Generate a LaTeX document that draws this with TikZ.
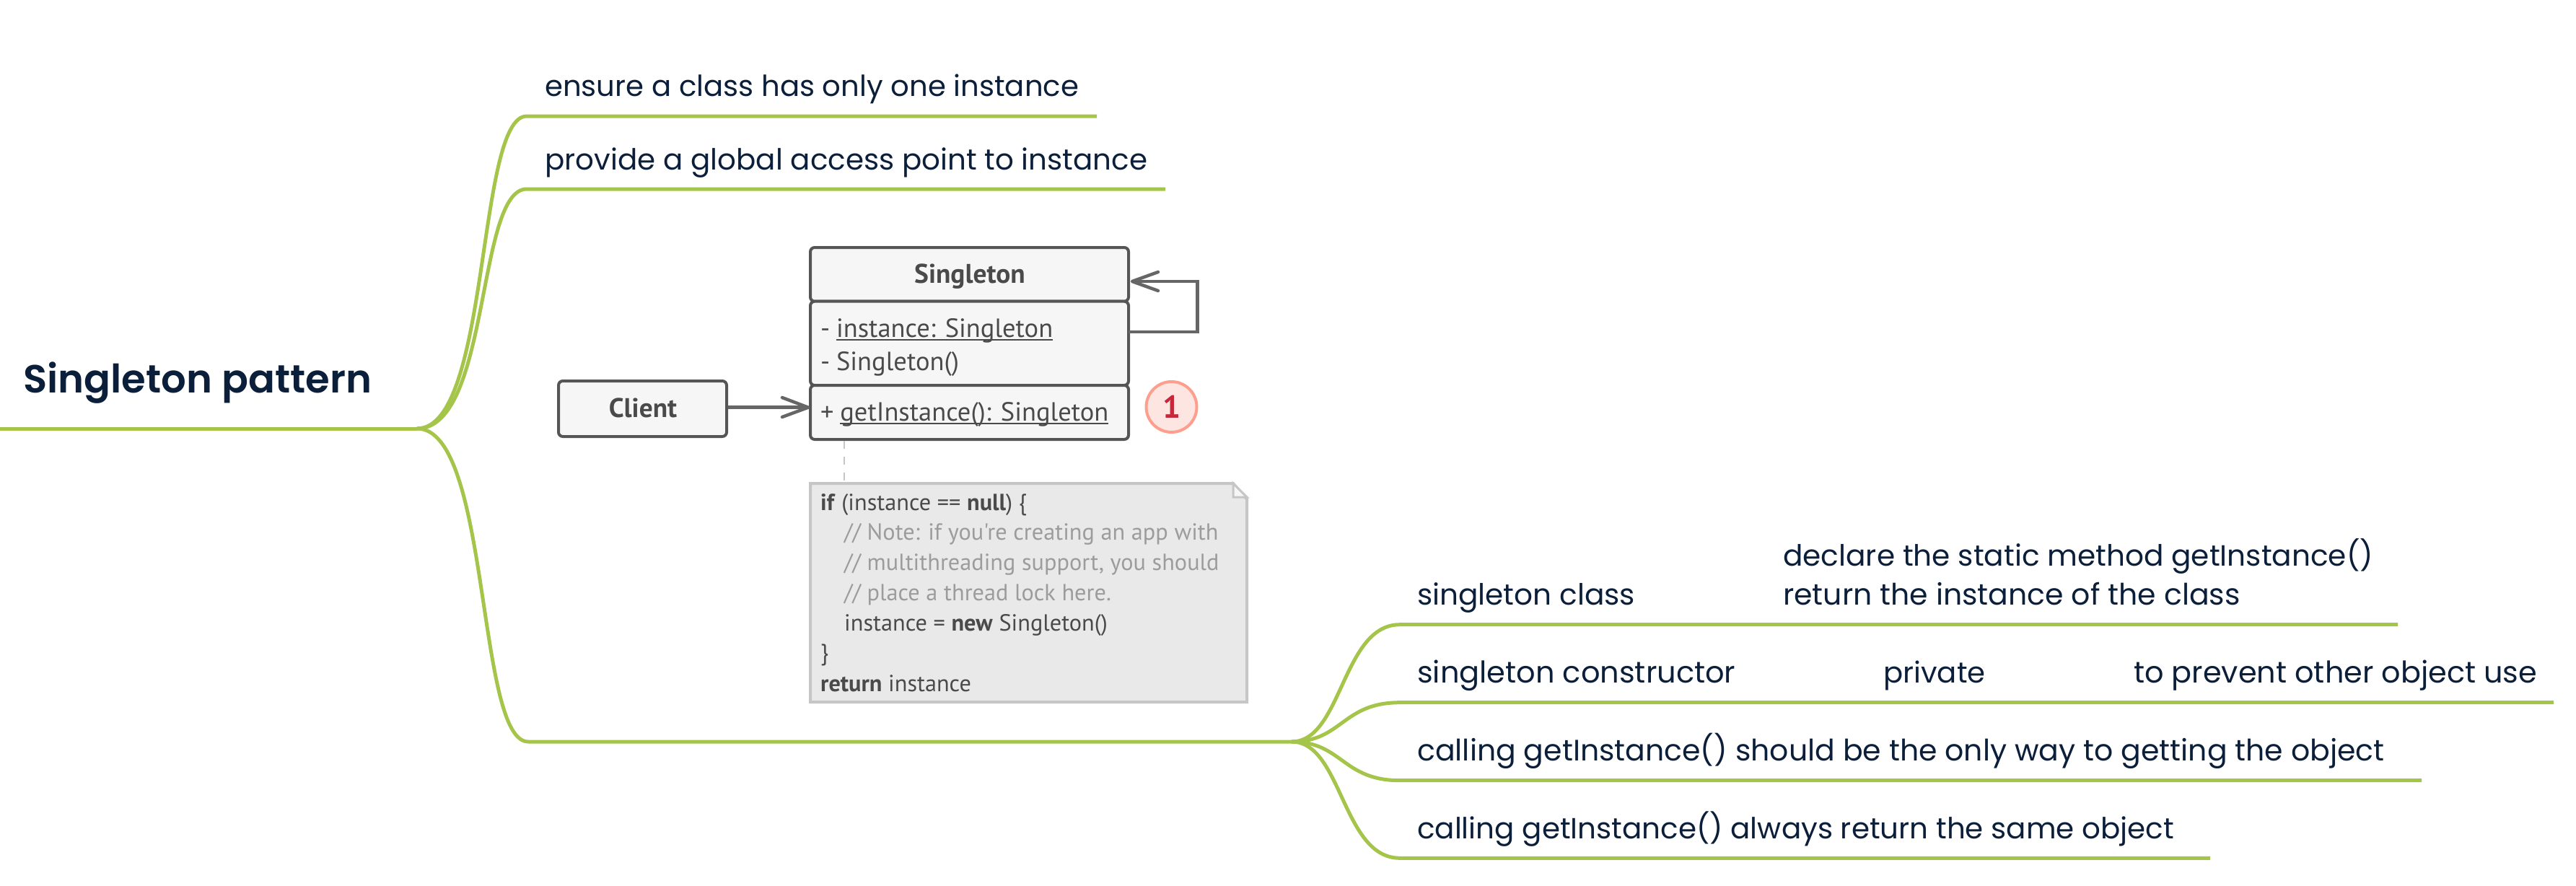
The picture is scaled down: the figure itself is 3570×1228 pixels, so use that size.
\documentclass[tikz,border=0pt]{standalone}
\usepackage{fontspec}
\setmainfont{Poppins}
\newfontfamily\uml{PT Sans}
\newfontfamily\titlefont{Poppins SemiBold}
\definecolor{branch}{HTML}{A4C44A}
\definecolor{ink}{HTML}{0B1F3A}
\definecolor{umldark}{HTML}{555555}
\definecolor{umlarrow}{HTML}{666666}
\definecolor{umlfill}{HTML}{F6F6F6}
\definecolor{notefill}{HTML}{E9E9E9}
\definecolor{noteline}{HTML}{C6C6C6}
\definecolor{notetext}{HTML}{4A4A4A}
\definecolor{commenttext}{HTML}{9C9C9C}
\definecolor{badgefill}{HTML}{FDE6E1}
\definecolor{badgeline}{HTML}{FD9E8F}
\definecolor{badgetext}{HTML}{C4283A}
\newcommand\myul[1]{\setbox0\hbox{#1}\rlap{\rule[-5pt]{\wd0}{1.8pt}}\box0}
\tikzset{
  branchline/.style={draw=branch,line width=5pt},
  mtext/.style={anchor=base west,inner sep=0pt,text=ink,font=\fontsize{#1}{48}\selectfont},
  titletext/.style={anchor=base west,inner sep=0pt,text=ink,font=\titlefont\fontsize{54.5}{64}\selectfont},
  umlbox/.style={draw=umldark,fill=umlfill,line width=4pt,rounded corners=6pt,inner sep=0pt},
  umlt/.style={anchor=base west,inner sep=0pt,text=notetext,font=\uml\fontsize{36.5}{42}\selectfont},
  umlb/.style={anchor=base,inner sep=0pt,text=notetext,font=\uml\bfseries\fontsize{37.4}{42}\selectfont},
  notet/.style={anchor=base west,inner sep=0pt,text=notetext,font=\uml\fontsize{32.3}{38}\selectfont},
  notec/.style={notet,text=commenttext},
  umlarr/.style={draw=umlarrow,line width=4.5pt},
  arrowarm/.style={draw=umlarrow,line width=4.5pt,line cap=round,line join=round},
}
\begin{document}
\begin{tikzpicture}[x=1pt,y=-1pt]
\useasboundingbox (0,0) rectangle (3570,1228);
% junctions
\coordinate (root0) at (0,594);
\coordinate (rootj) at (578,594);
\coordinate (a1) at (730,161);
\coordinate (a1e) at (1520,161);
\coordinate (a2) at (730,262);
\coordinate (a2e) at (1615,262);
\coordinate (a3) at (732,1028);
\coordinate (subj) at (1790,1028);
\coordinate (b1) at (1940,865.7);
\coordinate (b1e) at (3323,865.7);
\coordinate (b2) at (1940,973.7);
\coordinate (b2e) at (3539,973.7);
\coordinate (b3) at (1940,1081.7);
\coordinate (b3e) at (3356,1081.7);
\coordinate (b4) at (1940,1189.3);
\coordinate (b4e) at (3063,1189.3);
% branches
\draw[branchline] (root0) -- (rootj);
\draw[branchline] (rootj) .. controls (680,594) and (660,161) .. (a1) -- (a1e);
\draw[branchline] (rootj) .. controls (680,594) and (660,262) .. (a2) -- (a2e);
\draw[branchline] (rootj) .. controls (680,594) and (660,1028) .. (a3) -- (subj);
\draw[branchline] (subj) .. controls (1860,1028) and (1860,865.7) .. (b1) -- (b1e);
\draw[branchline] (subj) .. controls (1860,1028) and (1860,973.7) .. (b2) -- (b2e);
\draw[branchline] (subj) .. controls (1860,1028) and (1860,1081.7) .. (b3) -- (b3e);
\draw[branchline] (subj) .. controls (1860,1028) and (1860,1189.3) .. (b4) -- (b4e);
% mind map texts
\node[titletext] (title) at (32,544) {Singleton pattern};
\node[mtext=40.2] (t1) at (755,134) {ensure a class has only one instance};
\node[mtext=40.4] (t2) at (755,235) {provide a global access point to instance};
\node[mtext=40.6] (t3) at (1964,838.7) {singleton class};
\node[mtext=40.6] (t3a) at (2471,784) {declare the static method getInstance()};
\node[mtext=41] (t3b) at (2471,838.7) {return the instance of the class};
\node[mtext=41.5] (t4) at (1964,946.7) {singleton constructor};
\node[mtext=40.2] (t4a) at (2610,946.7) {private};
\node[mtext=41.4] (t4b) at (2957,946.7) {to prevent other object use};
\node[mtext=41] (t5) at (1964,1054.7) {calling getInstance() should be the only way to getting the object};
\node[mtext=40.4] (t6) at (1964,1162) {calling getInstance() always return the same object};
% UML
\path[umlbox] (1123,343) rectangle (1564,417.7);
\path[umlbox] (1123,417.7) rectangle (1564,534);
\path[umlbox] (1123,534) rectangle (1564,609);
\coordinate (selfstart) at (1564,460);
\coordinate (selftip) at (1569,390);
\coordinate (cltip) at (1120,564.7);
\node[umlbox,minimum width=233pt,minimum height=77pt] (client) at (890.5,566.5) {};
\node[umlb] (clientt) at (891,578) {Client};
\node[umlb] (singt) at (1344,392) {Singleton};
\node[umlt] (m1) at (1137,467) {-\kern-1pt\ \myul{instance: Singleton}};
\node[umlt] (m2) at (1137,513) {-\kern-1pt\ Singleton()};
\node[umlt] (m3) at (1137,583) {+\kern-1pt\ \myul{getInstance(): Singleton}};
\draw[umlarr] (selfstart) -- (1659.5,460) -- (1659.5,390) -- (selftip);
\draw[arrowarm] (1605,377) -- (selftip) -- (1605,403);
\draw[umlarr] (client.east |- cltip) -- (cltip);
\draw[arrowarm] (1084,551) -- (cltip) -- (1084,578);
\node[circle,draw=badgeline,fill=badgefill,line width=4pt,minimum size=70pt,inner sep=0pt] (badge) at (1623.5,564) {};
\node[anchor=base,inner sep=0pt,text=badgetext,font=\uml\bfseries\fontsize{44}{50}\selectfont] (badget) at (1623.5,579) {1};
% note
\coordinate (notetop) at (1170,670);
\draw[draw=noteline,line width=2.5pt,dash pattern=on 11pt off 11pt] (1170,611) -- (notetop);
\draw[draw=noteline,fill=notefill,line width=4pt,line join=miter]
  (1123,670) -- (1709,670) -- (1728,692) -- (1728,973) -- (1123,973) -- cycle;
\draw[draw=noteline,fill=umlfill,line width=3pt] (1709,670) -- (1709,689) -- (1728,689) -- cycle;
\node[notet] (n1) at (1137,707) {\textbf{if} (instance == \textbf{null}) \{};
\node[notec] (n2) at (1170,748) {// Note: if you're creating an app with};
\node[notec] (n3) at (1170,790) {// multithreading support, you should};
\node[notec] (n4) at (1170,832) {// place a thread lock here.};
\node[notet] (n5) at (1170,874) {instance = \textbf{new} Singleton()};
\node[notet] (n6) at (1137,915) {\}};
\node[notet] (n7) at (1137,958) {\textbf{return} instance};
\end{tikzpicture}
\end{document}
